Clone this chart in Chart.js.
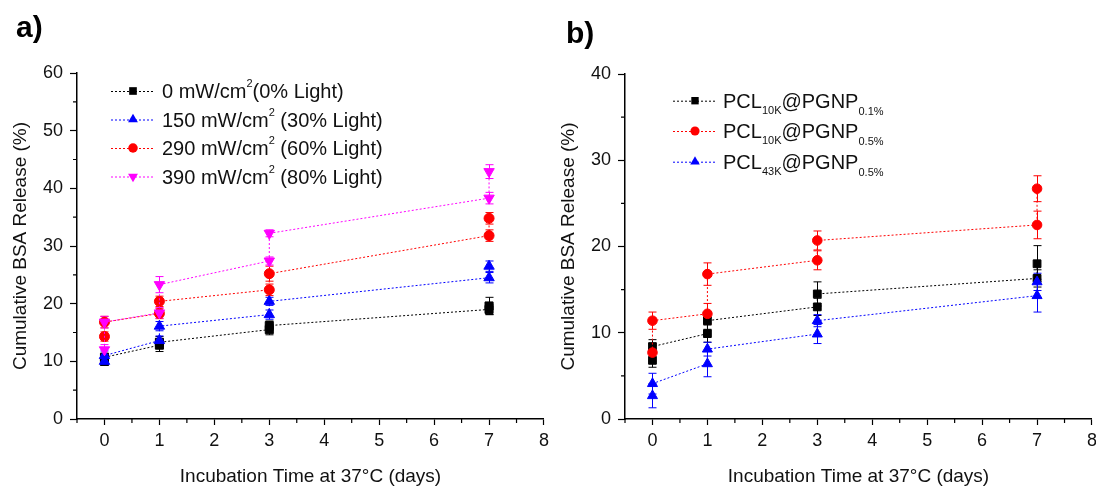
<!DOCTYPE html>
<html>
<head>
<meta charset="utf-8">
<script src="https://cdn.jsdelivr.net/npm/chart.js@4.4.1/dist/chart.umd.min.js"></script>
<style>
  html, body { margin: 0; padding: 0; background: #fff; }
  #wrap { position: relative; width: 1096px; height: 487px; overflow: hidden; }
  .panel { position: absolute; top: 0; width: 554px; height: 487px; }
  .tag { position: absolute; font: bold 30px "Liberation Sans", Arial, sans-serif; color: #000; }
</style>
</head>
<body>
<div id="wrap">
  <div class="panel" style="left:0"><canvas id="chartA" width="554" height="487"></canvas></div>
  <div class="panel" style="left:548px"><canvas id="chartB" width="554" height="487"></canvas></div>
  <div class="tag" style="left:16px;top:10px">a)</div>
  <div class="tag" style="left:566px;top:16px">b)</div>
</div>
<script>
const FONT = '"Liberation Sans", Arial, sans-serif';

// two replicates per sampling day
const days = [0, 0, 1, 1, 3, 3, 7, 7];

// panel a: light intensity
const light0 = [10.0, 10.7, 12.8, 13.3, 15.5, 16.2, 19.0, 19.6];
const light0Err = [0.7, 0.7, 1.1, 1.0, 0.9, 0.8, 0.9, 1.5];
const light150 = [10.0, 11.0, 13.6, 16.1, 18.1, 20.4, 24.5, 26.5];
const light150Err = [0.6, 0.8, 0.8, 0.8, 0.8, 0.7, 0.9, 0.9];
const light290 = [14.3, 16.8, 18.3, 20.4, 22.4, 25.2, 31.8, 34.8];
const light290Err = [0.8, 1.0, 0.9, 0.9, 1.0, 1.3, 1.0, 1.0];
const light390 = [12.0, 16.8, 18.4, 23.3, 27.4, 32.2, 38.3, 42.9];
const light390Err = [0.9, 1.0, 0.9, 1.4, 0.7, 0.6, 1.0, 1.2];

// panel b: polymer / loading
const pcl10k01 = [6.8, 8.4, 9.9, 11.4, 13.0, 14.5, 16.3, 18.0];
const pcl10k01Err = [0.8, 0.8, 1.0, 1.0, 1.0, 1.4, 1.0, 2.1];
const pcl10k05 = [7.7, 11.4, 12.2, 16.8, 18.4, 20.7, 22.5, 26.7];
const pcl10k05Err = [1.0, 1.0, 1.2, 1.3, 1.1, 1.1, 1.6, 1.5];
const pcl43k05 = [2.7, 4.1, 6.4, 8.1, 9.85, 11.4, 14.3, 15.9];
const pcl43k05Err = [1.4, 1.2, 1.5, 0.8, 1.1, 0.7, 1.9, 1.0];

const legendA = [
  [{ t: '0 mW/cm' }, { t: '2', sup: true }, { t: '(0% Light)' }],
  [{ t: '150 mW/cm' }, { t: '2', sup: true }, { t: ' (30% Light)' }],
  [{ t: '290 mW/cm' }, { t: '2', sup: true }, { t: ' (60% Light)' }],
  [{ t: '390 mW/cm' }, { t: '2', sup: true }, { t: ' (80% Light)' }]
];
const legendB = [
  [{ t: 'PCL' }, { t: '10K', sub: true }, { t: '@PGNP' }, { t: '0.1%', sub: true, low: 1 }],
  [{ t: 'PCL' }, { t: '10K', sub: true }, { t: '@PGNP' }, { t: '0.5%', sub: true, low: 1 }],
  [{ t: 'PCL' }, { t: '43K', sub: true }, { t: '@PGNP' }, { t: '0.5%', sub: true, low: 1 }]
];

function series(vals, errs, color, style, radius, rotation, order) {
  return {
    data: days.map((d, i) => ({ x: d, y: vals[i] })),
    errors: errs,
    showLine: true,
    borderColor: color,
    borderWidth: 1,
    borderDash: [2, 2],
    backgroundColor: color,
    pointBackgroundColor: color,
    pointBorderColor: color,
    pointBorderWidth: 1,
    pointStyle: style,
    pointRadius: radius,
    pointRotation: rotation,
    order: order
  };
}

function drawMarker(ctx, style, x, y, r, rot, color) {
  ctx.save();
  ctx.fillStyle = color;
  ctx.translate(x, y);
  ctx.rotate(rot * Math.PI / 180);
  ctx.beginPath();
  if (style === 'rect') {
    const s = r * Math.SQRT1_2;
    ctx.rect(-s, -s, 2 * s, 2 * s);
  } else if (style === 'triangle') {
    for (let k = 0; k < 3; k++) {
      const a = k * 2 * Math.PI / 3;
      ctx[k ? 'lineTo' : 'moveTo'](Math.sin(a) * r, -Math.cos(a) * r);
    }
    ctx.closePath();
  } else {
    ctx.arc(0, 0, r, 0, 2 * Math.PI);
  }
  ctx.fill();
  ctx.restore();
}

// error bars, minor ticks and the legend
function extras(rows, lay) {
  return {
    id: 'extras',
    beforeDatasetsDraw(chart) {
      const ctx = chart.ctx, xs = chart.scales.x, ys = chart.scales.y;
      ctx.save();
      ctx.lineWidth = 1;
      chart.data.datasets.forEach((ds) => {
        ctx.strokeStyle = ds.borderColor;
        ds.data.forEach((p, j) => {
          const px = Math.round(xs.getPixelForValue(p.x)) + 0.5;
          const top = ys.getPixelForValue(p.y + ds.errors[j]);
          const bot = ys.getPixelForValue(p.y - ds.errors[j]);
          ctx.beginPath();
          ctx.moveTo(px, top); ctx.lineTo(px, bot);
          ctx.moveTo(px - 4, top); ctx.lineTo(px + 4, top);
          ctx.moveTo(px - 4, bot); ctx.lineTo(px + 4, bot);
          ctx.stroke();
        });
      });
      ctx.restore();
    },
    afterDraw(chart) {
      const ctx = chart.ctx, xs = chart.scales.x, ys = chart.scales.y;
      ctx.save();
      ctx.strokeStyle = '#000';
      ctx.lineWidth = 1.2;
      ctx.beginPath();
      ys.ticks.forEach(t => {
        if (t.value % 10 !== 0) {
          const py = ys.getPixelForValue(t.value);
          ctx.moveTo(ys.right - 4, py); ctx.lineTo(ys.right, py);
        }
      });
      xs.ticks.forEach(t => {
        if (!Number.isInteger(t.value)) {
          const px = xs.getPixelForValue(t.value);
          ctx.moveTo(px, xs.top); ctx.lineTo(px, xs.top + 4);
        }
      });
      ctx.stroke();

      // legend
      rows.forEach((row, i) => {
        const ds = chart.data.datasets[i];
        const y = lay.y[i];
        ctx.strokeStyle = ds.borderColor;
        ctx.lineWidth = 1;
        ctx.setLineDash([2, 2]);
        ctx.beginPath();
        ctx.moveTo(lay.x0, y + 0.5); ctx.lineTo(lay.x1, y + 0.5);
        ctx.stroke();
        ctx.setLineDash([]);
        drawMarker(ctx, ds.pointStyle, (lay.x0 + lay.x1) / 2, y, ds.pointRadius * 0.95, ds.pointRotation, ds.pointBackgroundColor);
        let x = lay.tx;
        const base = y + 7;
        ctx.fillStyle = '#111';
        ctx.textBaseline = 'alphabetic';
        ctx.textAlign = 'left';
        row.forEach(seg => {
          const small = seg.sup || seg.sub;
          ctx.font = (small ? lay.small : lay.size) + 'px ' + FONT;
          const by = seg.sup ? base - 11 : seg.sub ? base + 6 + (seg.low || 0) : base;
          ctx.fillText(seg.t, x, by);
          x += ctx.measureText(seg.t).width;
        });
      });
      ctx.restore();
    }
  };
}

function options(yMax, top) {
  const tickFont = { family: FONT, size: 18 };
  const titleFont = { family: FONT, size: 19, lineHeight: 1.1 };
  return {
    responsive: false,
    animation: false,
    layout: { padding: { left: 0, right: 0, top: top, bottom: 0 } },
    plugins: { legend: { display: false }, tooltip: { enabled: false } },
    scales: {
      x: {
        type: 'linear', min: -0.5, max: 8,
        afterFit: s => { s.height = 68; },
        ticks: { stepSize: 0.5, color: '#111', font: tickFont, padding: 5, maxRotation: 0, autoSkip: false,
                 callback: v => Number.isInteger(v) ? v : '' },
        grid: { drawOnChartArea: false, tickLength: 6, tickWidth: 1.2,
                tickColor: c => (c.tick && Number.isInteger(c.tick.value)) ? '#000' : 'rgba(0,0,0,0)' },
        border: { display: true, color: '#000', width: 1.5 },
        title: { display: true, text: 'Incubation Time at 37°C (days)', color: '#111', font: titleFont,
                 padding: { top: 0, bottom: 0 } }
      },
      y: {
        min: 0, max: yMax,
        afterFit: s => { s.width = 77; },
        ticks: { stepSize: 5, color: '#111', font: tickFont, padding: 7, autoSkip: false,
                 callback: v => v % 10 === 0 ? v : '' },
        grid: { drawOnChartArea: false, tickLength: 7, tickWidth: 1.2,
                tickColor: c => (c.tick && c.tick.value % 10 === 0) ? '#000' : 'rgba(0,0,0,0)' },
        border: { display: true, color: '#000', width: 1.5 },
        title: { display: true, text: 'Cumulative BSA Release (%)', color: '#111', font: titleFont,
                 padding: { top: 10, bottom: 0 } }
      }
    }
  };
}

new Chart(document.getElementById('chartA'), {
  type: 'scatter',
  data: {
    datasets: [
      series(light0, light0Err, '#000000', 'rect', 5.7, 0, 4),
      series(light150, light150Err, '#0000ff', 'triangle', 6, 0, 3),
      series(light290, light290Err, '#ff0000', 'circle', 5, 0, 2),
      series(light390, light390Err, '#ff00ff', 'triangle', 6, 180, 1)
    ]
  },
  options: options(60, 73),
  plugins: [extras(legendA, { x0: 111, x1: 155, tx: 162, y: [91, 119.5, 148, 176.5], size: 20, small: 11 })]
});

new Chart(document.getElementById('chartB'), {
  type: 'scatter',
  data: {
    datasets: [
      series(pcl10k01, pcl10k01Err, '#000000', 'rect', 5.5, 0, 3),
      series(pcl10k05, pcl10k05Err, '#ff0000', 'circle', 4.8, 0, 2),
      series(pcl43k05, pcl43k05Err, '#0000ff', 'triangle', 5.8, 0, 1)
    ]
  },
  options: options(40, 74),
  plugins: [extras(legendB, { x0: 125, x1: 169, tx: 175, y: [100.7, 131, 161.7], size: 20, small: 11 })]
});
</script>
</body>
</html>
